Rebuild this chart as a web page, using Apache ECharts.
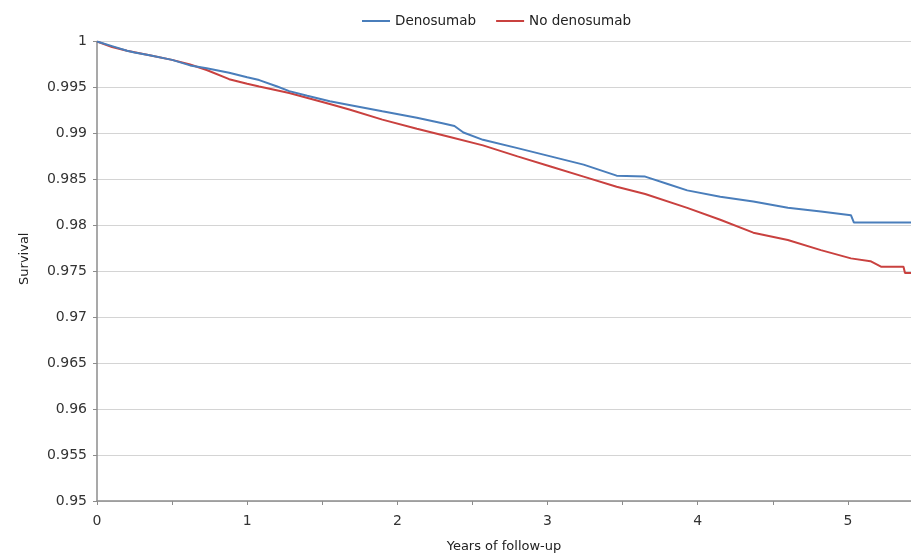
<!DOCTYPE html>
<html>
<head>
<meta charset="utf-8" />
<title>Survival</title>
<style>
  html, body { margin: 0; padding: 0; background: #fff; }
  #main { width: 911px; height: 555px; }
</style>
</head>
<body>
<div id="main"></div>
<script src="https://cdn.jsdelivr.net/npm/echarts@6/dist/echarts.min.js"></script>
<script>
// values (years of follow-up, survival)
var denoYears = [0, 0.1, 0.2, 0.25, 0.35, 0.5, 0.62, 0.73, 0.88, 1.0, 1.08, 1.2, 1.28, 1.4, 1.55, 1.68, 1.9, 2.13, 2.3, 2.38, 2.44, 2.57, 2.8, 3.02, 3.24, 3.46, 3.65, 3.8, 3.93, 4.15, 4.37, 4.6, 4.82, 5.02, 5.04, 5.42];
var denoSurv = [1.0, 0.9995, 0.999, 0.9988, 0.9985, 0.998, 0.9974, 0.9971, 0.9966, 0.9961, 0.9958, 0.9951, 0.9946, 0.9941, 0.9935, 0.9931, 0.9924, 0.9917, 0.9911, 0.9908, 0.9901, 0.9893, 0.9884, 0.9875, 0.9866, 0.9854, 0.9853, 0.9845, 0.9838, 0.9831, 0.9826, 0.9819, 0.9815, 0.9811, 0.9803, 0.9803];

var noDenoYears = [0, 0.1, 0.2, 0.35, 0.5, 0.62, 0.73, 0.88, 1.0, 1.08, 1.28, 1.55, 1.68, 1.9, 2.13, 2.35, 2.57, 2.8, 3.02, 3.24, 3.46, 3.65, 3.93, 4.15, 4.37, 4.6, 4.82, 5.02, 5.15, 5.22, 5.37, 5.38, 5.42];
var noDenoSurv = [1.0, 0.9994, 0.999, 0.9985, 0.998, 0.9975, 0.9969, 0.9959, 0.9954, 0.9951, 0.9944, 0.9932, 0.9926, 0.9915, 0.9905, 0.9896, 0.9887, 0.9875, 0.9864, 0.9853, 0.9842, 0.9834, 0.9819, 0.9806, 0.9792, 0.9784, 0.9773, 0.9764, 0.9761, 0.9755, 0.9755, 0.9748, 0.9748];

var seriesNames = ['Denosumab', 'No denosumab'];

function pairs(xs, ys) {
  var out = [];
  for (var i = 0; i < xs.length; i++) out.push([xs[i], ys[i]]);
  return out;
}

var font = 'DejaVu Sans, Verdana, sans-serif';
var chart = echarts.init(document.getElementById('main'));

chart.setOption({
  animation: false,
  textStyle: { fontFamily: font },
  legend: {
    top: 9,
    left: 357,
    icon: 'rect',
    itemWidth: 28,
    itemHeight: 2,
    itemGap: 20,
    textStyle: { fontSize: 13.5, color: '#222', fontFamily: font },
    data: seriesNames
  },
  grid: { left: 97, right: 0, top: 41.5, bottom: 54, outerBoundsMode: 'none' },
  xAxis: {
    type: 'value',
    min: 0,
    max: 5.42,
    interval: 1,
    name: 'Years of follow-up',
    nameLocation: 'middle',
    nameGap: 39,
    nameTextStyle: { fontSize: 13, color: '#222' },
    axisLine: { lineStyle: { color: '#8c8c8c', width: 1.5 } },
    axisTick: { length: 4, lineStyle: { color: '#8c8c8c' } },
    minorTick: { show: true, splitNumber: 2, length: 4, lineStyle: { color: '#8c8c8c' } },
    splitLine: { show: false },
    axisLabel: {
      fontSize: 14,
      color: '#333',
      margin: 13,
      formatter: function (v) { return Number.isInteger(v) ? String(v) : ''; }
    }
  },
  yAxis: {
    type: 'value',
    min: 0.95,
    max: 1,
    interval: 0.005,
    name: 'Survival',
    nameLocation: 'middle',
    nameGap: 66,
    nameTextStyle: { fontSize: 13, color: '#222', padding: [0, 0, 0, 25] },
    axisLine: { show: true, lineStyle: { color: '#8c8c8c', width: 1.5 } },
    axisTick: { show: true, length: 4, lineStyle: { color: '#8c8c8c' } },
    splitLine: { lineStyle: { color: '#d4d4d4', width: 1 } },
    axisLabel: { fontSize: 14, color: '#333', margin: 10 }
  },
  series: [
    {
      name: seriesNames[0],
      type: 'line',
      data: pairs(denoYears, denoSurv),
      showSymbol: false,
      lineStyle: { color: '#4a7ebb', width: 2 },
      itemStyle: { color: '#4a7ebb' },
      z: 3
    },
    {
      name: seriesNames[1],
      type: 'line',
      data: pairs(noDenoYears, noDenoSurv),
      showSymbol: false,
      lineStyle: { color: '#c9413f', width: 2 },
      itemStyle: { color: '#c9413f' },
      z: 2
    }
  ]
});
</script>
</body>
</html>
